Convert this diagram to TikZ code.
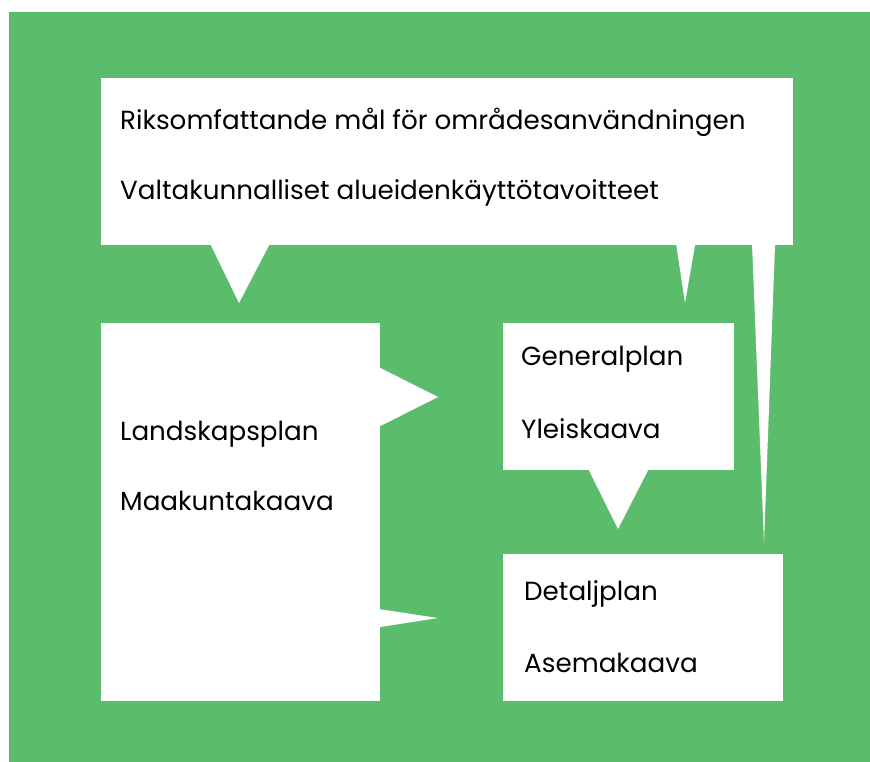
\documentclass[tikz,border=0pt]{standalone}
\usepackage{fontspec}
\setmainfont{Poppins}
\definecolor{planGreen}{RGB}{91,189,107}

\begin{document}
\begin{tikzpicture}[x=1pt, y=-1pt,
    planbox/.style={fill=white, draw=none, inner sep=0pt, anchor=north west},
    txt/.style={anchor=base west, inner sep=0pt, font=\fontsize{26.2}{30}\selectfont},
    tailfill/.style={fill=white, draw=none}]
    \useasboundingbox (0,0) rectangle (870,762);
    \fill[planGreen] (9,12) rectangle (870,762);

    % Boxes
    \node[planbox, minimum width=692pt, minimum height=167pt] (goals) at (101,78) {};
    \node[planbox, minimum width=279pt, minimum height=378pt] (landskap) at (101,323) {};
    \node[planbox, minimum width=231pt, minimum height=147pt] (general) at (503,323) {};
    \node[planbox, minimum width=280pt, minimum height=147pt] (detalj) at (503,554) {};

    % Texts
    \node[txt] (goalsSv) at (120,130) {Riksomfattande mål för områdesanvändningen};
    \node[txt] (goalsFi) at (120,200) {Valtakunnalliset alueidenkäyttötavoitteet};
    \node[txt] (landskapSv) at (120,440) {Landskapsplan};
    \node[txt] (landskapFi) at (120,510) {Maakuntakaava};
    \node[txt] (generalSv) at (521,365) {Generalplan};
    \node[txt] (generalFi) at (521,438) {Yleiskaava};
    \node[txt] (detaljSv) at (524,600) {Detaljplan};
    \node[txt] (detaljFi) at (524,672) {Asemakaava};

    % Tail tips
    \coordinate (tipLandskap) at (239,303);
    \coordinate (tipGeneral) at (685,303);
    \coordinate (tipDetalj) at (764,543);
    \coordinate (tipGenFromLand) at (438,397);
    \coordinate (tipDetFromLand) at (438,618);
    \coordinate (tipDetFromGen) at (618,529);

    % Tails (box -> tip)
    \fill[tailfill] (goals.south -| 210,0) ++(0,-2) -- (tipLandskap) -- (goals.south -| 269,0) -- ++(0,-2) -- cycle;
    \fill[tailfill] (goals.south -| 676,0) ++(0,-2) -- (tipGeneral) -- (goals.south -| 695,0) -- ++(0,-2) -- cycle;
    \fill[tailfill] (goals.south -| 752,0) ++(0,-2) -- (tipDetalj) -- (goals.south -| 775,0) -- ++(0,-2) -- cycle;
    \fill[tailfill] (landskap.east |- 0,367) ++(-2,0) -- (tipGenFromLand) -- (landskap.east |- 0,426) -- ++(-2,0) -- cycle;
    \fill[tailfill] (landskap.east |- 0,609) ++(-2,0) -- (tipDetFromLand) -- (landskap.east |- 0,627) -- ++(-2,0) -- cycle;
    \fill[tailfill] (general.south -| 588,0) ++(0,-2) -- (tipDetFromGen) -- (general.south -| 648,0) -- ++(0,-2) -- cycle;
\end{tikzpicture}
\end{document}
